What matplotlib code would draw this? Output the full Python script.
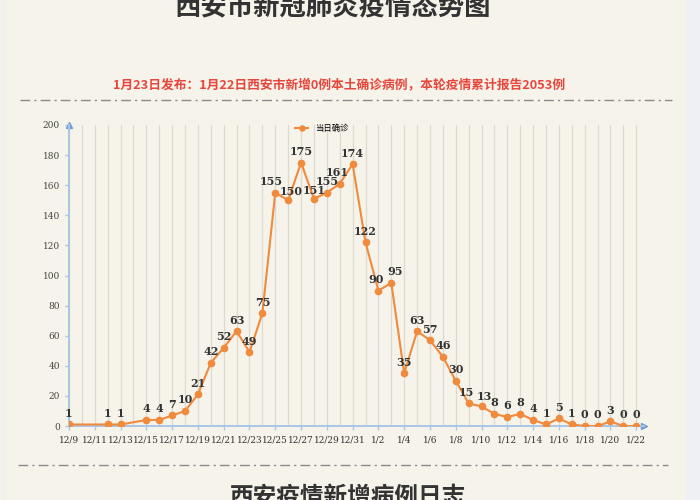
# -*- coding: utf-8 -*-
# 西安市新冠肺炎疫情态势图 —— 当日确诊折线图（截图复刻）
import numpy as np
import pandas as pd
import matplotlib; matplotlib.use('Agg')
import matplotlib.pyplot as plt
from matplotlib.lines import Line2D
from matplotlib.patches import Rectangle

plt.rcParams['font.family'] = ['Noto Sans CJK SC', 'DejaVu Sans']

TITLE = '西安市新冠肺炎疫情态势图'
SUBTITLE = '1月23日发布：1月22日西安市新增0例本土确诊病例，本轮疫情累计报告2053例'
FOOTER = '西安疫情新增病例日志'
SERIES = '当日确诊'
START, END = '2021-12-09', '2022-01-22'
DATES = ['2021-12-09', '2021-12-12', '2021-12-13', '2021-12-15', '2021-12-16', '2021-12-17',
         '2021-12-18', '2021-12-19', '2021-12-20', '2021-12-21', '2021-12-22', '2021-12-23',
         '2021-12-24', '2021-12-25', '2021-12-26', '2021-12-27', '2021-12-28', '2021-12-29',
         '2021-12-30', '2021-12-31', '2022-01-01', '2022-01-02', '2022-01-03', '2022-01-04',
         '2022-01-05', '2022-01-06', '2022-01-07', '2022-01-08', '2022-01-09', '2022-01-10',
         '2022-01-11', '2022-01-12', '2022-01-13', '2022-01-14', '2022-01-15', '2022-01-16',
         '2022-01-17', '2022-01-18', '2022-01-19', '2022-01-20', '2022-01-21', '2022-01-22']
CASES = [1, 1, 1, 4, 4, 7, 10, 21, 42, 52, 63, 49, 75, 155, 150, 175, 151, 155, 161, 174,
         122, 90, 95, 35, 63, 57, 46, 30, 15, 13, 8, 6, 8, 4, 1, 5, 1, 0, 0, 3, 0, 0]

BG = '#f6f3ea'
ORANGE = '#f08a3c'
AXBLUE = '#a9c6e6'
RED = '#e8463c'

# 个别标签左右错开（与原图一致）
NUDGE = {'2021-12-25': (-3, 4), '2021-12-26': (2, 2), '2021-12-28': (0, 2),
         '2021-12-30': (-2, 4), '2022-01-02': (-2, 4), '2022-01-03': (3, 4),
         '2022-01-09': (-2, 4), '2022-01-10': (2, 3)}

t0 = pd.Timestamp(START)
x = np.array([(pd.Timestamp(d) - t0).days for d in DATES])
ndays = (pd.Timestamp(END) - t0).days
alldays = pd.date_range(START, END, freq='D')

fig = plt.figure(figsize=(7, 5), dpi=100, facecolor=BG)
fig.add_artist(Rectangle((686/700, 0), 1 - 686/700, 1, transform=fig.transFigure,
                         facecolor='#eef0f4', edgecolor='none', zorder=0))
fig.add_artist(Rectangle((0, 0), 7/700, 1, transform=fig.transFigure,
                         facecolor='#f2f1ec', edgecolor='none', zorder=0))

fig.text(0.475, 1 - 8/500, TITLE, ha='center', va='center', fontsize=19,
         fontweight='bold', color='#333333')
fig.text(0.485, 1 - 85/500, SUBTITLE, ha='center', va='center', fontsize=9.2,
         fontweight='bold', color=RED)
fig.text(0.497, 1 - 497/500, FOOTER, ha='center', va='center', fontsize=17,
         fontweight='bold', color='#333333')
for y0, x1, x2 in [(100, 20, 672), (465, 18, 668)]:
    fig.add_artist(Line2D([x1/700, x2/700], [1 - y0/500] * 2, transform=fig.transFigure,
                          color='#8a8a8a', lw=1.0, dashes=(7, 3, 1.5, 3)))

ax = fig.add_axes([69/700, 74/500, 575/700, 301/500])
ax.set_facecolor(BG)
ax.set_xlim(0, ndays + 0.6)
ax.set_ylim(0, 200)
for d in range(ndays + 1):
    ax.axvline(d, color='#dedad0', lw=0.9, zorder=1)

ax.plot(x, CASES, color=ORANGE, lw=1.5, marker='o', ms=4.5, mfc=ORANGE, mec=ORANGE,
        zorder=3, label=SERIES)
for d, xi, v in zip(DATES, x, CASES):
    ax.annotate(str(v), (xi, v), xytext=NUDGE.get(d, (0, 4)), textcoords='offset points',
                ha='center', va='bottom', fontsize=8, fontweight='bold', color='#333333',
                family='DejaVu Serif', zorder=4)

xt = np.arange(0, ndays + 1, 2)
ax.set_xticks(xt)
ax.set_xticklabels([f'{alldays[i].month}/{alldays[i].day}' for i in xt],
                   family='DejaVu Serif', fontsize=6.5, color='#333333')
ax.set_yticks(np.arange(0, 201, 20))
ax.set_yticklabels([str(v) for v in range(0, 201, 20)], family='DejaVu Serif',
                   fontsize=6.5, color='#444444')
ax.tick_params(axis='both', color=AXBLUE, length=3, width=1)
for s in ['top', 'right']:
    ax.spines[s].set_visible(False)
for s in ['left', 'bottom']:
    ax.spines[s].set_color(AXBLUE)
    ax.spines[s].set_linewidth(1.4)
ax.plot([0], [1], marker='^', ms=4, color='#6f9fd6', transform=ax.transAxes, clip_on=False)
ax.plot([1], [0], marker='>', ms=4, color='#6f9fd6', transform=ax.transAxes, clip_on=False)

ax.legend(loc='upper left', bbox_to_anchor=(0.38, 1.03), frameon=False, fontsize=6,
          handlelength=1.6, markerscale=0.8)

fig.savefig('out.png', dpi=100, facecolor=BG)
